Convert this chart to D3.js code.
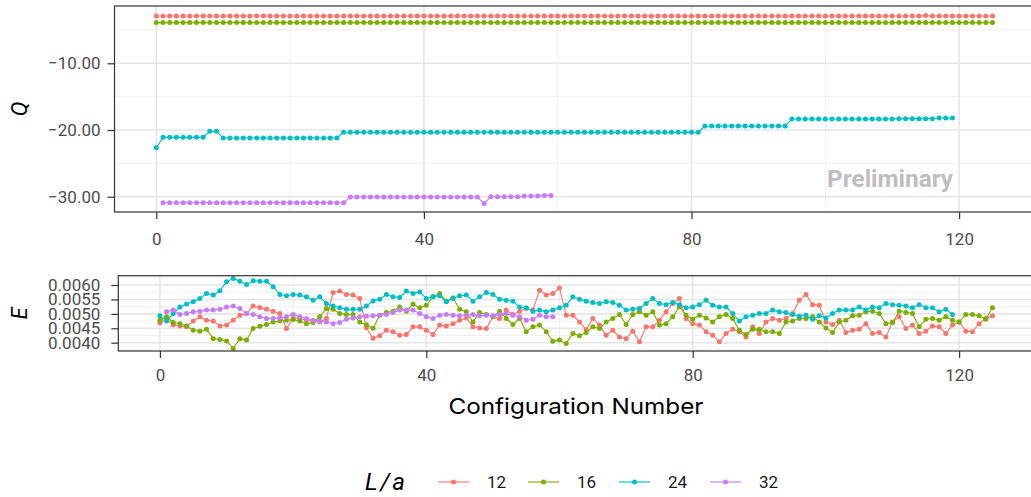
<!DOCTYPE html>
<html>
<head>
<meta charset="utf-8">
<script src="https://cdn.jsdelivr.net/npm/d3@7"></script>
<style>
  body { margin: 0; background: #fff; }
  svg { display: block; }
</style>
</head>
<body>
<div id="chart"></div>
<script>
// lattice sizes L/a
var sizes = ["12", "16", "24", "32"];
var colors = ["#F8766D", "#7CAE00", "#00BFC4", "#C77CFF"];
var firstConfig = [0, 0, 0, 1];

// topological charge Q, as runs [value, how many configs]
var qRuns12 = [[-2.90, 115], [-2.85, 1], [-2.90, 10]];
var qRuns16 = [[-3.90, 126]];
var qRuns24 = [[-22.65, 1], [-21.10, 7], [-20.20, 2], [-21.20, 18], [-20.35, 54],
               [-19.40, 13], [-18.35, 16], [-18.30, 6], [-18.20, 3]];
var qRuns32 = [[-30.90, 28], [-30.05, 20], [-31.00, 1], [-30.00, 5], [-29.90, 3], [-29.80, 2]];

// energy density E
var e12 = [0.00468, 0.00482, 0.00462, 0.00458, 0.00455, 0.00475, 0.00490, 0.00478, 0.00475, 0.00458,
           0.00461, 0.00478, 0.00495, 0.00501, 0.00527, 0.00522, 0.00516, 0.00509, 0.00501, 0.00449,
           0.00486, 0.00484, 0.00478, 0.00475, 0.00472, 0.00484, 0.00574, 0.00579, 0.00567, 0.00565,
           0.00553, 0.00452, 0.00415, 0.00424, 0.00443, 0.00438, 0.00426, 0.00428, 0.00455, 0.00455,
           0.00443, 0.00428, 0.00461, 0.00458, 0.00466, 0.00478, 0.00486, 0.00455, 0.00451, 0.00449,
           0.00490, 0.00484, 0.00513, 0.00498, 0.00509, 0.00519, 0.00513, 0.00582, 0.00565, 0.00571,
           0.00590, 0.00495, 0.00495, 0.00472, 0.00445, 0.00484, 0.00461, 0.00426, 0.00443, 0.00420,
           0.00414, 0.00440, 0.00403, 0.00455, 0.00455, 0.00478, 0.00507, 0.00536, 0.00553, 0.00484,
           0.00466, 0.00461, 0.00438, 0.00426, 0.00403, 0.00432, 0.00447, 0.00438, 0.00420, 0.00455,
           0.00432, 0.00472, 0.00484, 0.00478, 0.00484, 0.00501, 0.00547, 0.00567, 0.00532, 0.00530,
           0.00472, 0.00463, 0.00478, 0.00435, 0.00443, 0.00447, 0.00466, 0.00432, 0.00435, 0.00420,
           0.00472, 0.00490, 0.00449, 0.00461, 0.00432, 0.00440, 0.00458, 0.00455, 0.00432, 0.00461,
           0.00472, 0.00440, 0.00438, 0.00466, 0.00484, 0.00493];
var e16 = [0.00478, 0.00490, 0.00470, 0.00466, 0.00458, 0.00443, 0.00440, 0.00447, 0.00414, 0.00411,
           0.00406, 0.00380, 0.00414, 0.00409, 0.00449, 0.00457, 0.00463, 0.00472, 0.00475, 0.00478,
           0.00480, 0.00475, 0.00466, 0.00470, 0.00490, 0.00519, 0.00516, 0.00501, 0.00498, 0.00498,
           0.00472, 0.00462, 0.00450, 0.00495, 0.00505, 0.00509, 0.00524, 0.00509, 0.00534, 0.00521,
           0.00530, 0.00559, 0.00571, 0.00544, 0.00556, 0.00516, 0.00507, 0.00472, 0.00505, 0.00498,
           0.00490, 0.00509, 0.00484, 0.00463, 0.00484, 0.00438, 0.00455, 0.00461, 0.00438, 0.00405,
           0.00409, 0.00397, 0.00432, 0.00424, 0.00435, 0.00455, 0.00449, 0.00472, 0.00484, 0.00498,
           0.00463, 0.00498, 0.00507, 0.00495, 0.00507, 0.00461, 0.00466, 0.00490, 0.00524, 0.00495,
           0.00481, 0.00495, 0.00486, 0.00472, 0.00490, 0.00498, 0.00484, 0.00443, 0.00428, 0.00447,
           0.00447, 0.00438, 0.00438, 0.00432, 0.00472, 0.00475, 0.00484, 0.00484, 0.00490, 0.00472,
           0.00451, 0.00435, 0.00472, 0.00478, 0.00493, 0.00495, 0.00507, 0.00509, 0.00501, 0.00466,
           0.00470, 0.00509, 0.00505, 0.00501, 0.00455, 0.00481, 0.00484, 0.00478, 0.00490, 0.00478,
           0.00472, 0.00498, 0.00498, 0.00493, 0.00481, 0.00521];
var e24 = [0.00493, 0.00475, 0.00501, 0.00524, 0.00534, 0.00542, 0.00553, 0.00571, 0.00565, 0.00580,
           0.00611, 0.00623, 0.00613, 0.00602, 0.00615, 0.00613, 0.00613, 0.00594, 0.00567, 0.00563,
           0.00567, 0.00565, 0.00559, 0.00547, 0.00559, 0.00536, 0.00527, 0.00521, 0.00516, 0.00516,
           0.00516, 0.00527, 0.00545, 0.00551, 0.00567, 0.00559, 0.00557, 0.00579, 0.00571, 0.00576,
           0.00553, 0.00559, 0.00563, 0.00542, 0.00553, 0.00563, 0.00565, 0.00544, 0.00559, 0.00574,
           0.00567, 0.00551, 0.00547, 0.00544, 0.00524, 0.00521, 0.00509, 0.00513, 0.00507, 0.00513,
           0.00521, 0.00530, 0.00559, 0.00551, 0.00544, 0.00539, 0.00536, 0.00542, 0.00539, 0.00530,
           0.00513, 0.00516, 0.00519, 0.00536, 0.00553, 0.00536, 0.00532, 0.00539, 0.00532, 0.00521,
           0.00524, 0.00532, 0.00547, 0.00530, 0.00524, 0.00524, 0.00501, 0.00475, 0.00490, 0.00495,
           0.00501, 0.00501, 0.00513, 0.00507, 0.00505, 0.00498, 0.00492, 0.00495, 0.00481, 0.00493,
           0.00486, 0.00501, 0.00513, 0.00513, 0.00513, 0.00524, 0.00513, 0.00524, 0.00521, 0.00536,
           0.00532, 0.00530, 0.00527, 0.00521, 0.00532, 0.00521, 0.00521, 0.00507, 0.00516, 0.00498];
var e32 = [0.00507, 0.00513, 0.00498, 0.00501, 0.00507, 0.00509, 0.00513, 0.00513, 0.00516, 0.00524,
           0.00527, 0.00519, 0.00501, 0.00498, 0.00490, 0.00484, 0.00484, 0.00486, 0.00490, 0.00498,
           0.00490, 0.00484, 0.00478, 0.00475, 0.00472, 0.00466, 0.00470, 0.00481, 0.00486, 0.00490,
           0.00492, 0.00493, 0.00495, 0.00498, 0.00505, 0.00513, 0.00513, 0.00513, 0.00501, 0.00490,
           0.00484, 0.00495, 0.00498, 0.00495, 0.00493, 0.00495, 0.00498, 0.00493, 0.00495, 0.00493,
           0.00498, 0.00501, 0.00495, 0.00490, 0.00478, 0.00481, 0.00495, 0.00490, 0.00490];

var qTicks = [-30, -20, -10];
var qMinor = [-25, -15, -5];
var eTicks = [0.0040, 0.0045, 0.0050, 0.0055, 0.0060];
var eMinor = [0.00375, 0.00425, 0.00475, 0.00525, 0.00575, 0.00625];
var xTicks = [0, 40, 80, 120];
var xMinor = [20, 60, 100];

function expand(runs) {
  var out = [];
  runs.forEach(function (r) { for (var k = 0; k < r[1]; k++) out.push(r[0]); });
  return out;
}

var qSeries = [expand(qRuns12), expand(qRuns16), expand(qRuns24), expand(qRuns32)];
var eSeries = [e12, e16, e24, e32];

function toPoints(vals, s) {
  return vals.map(function (v, i) { return { x: firstConfig[s] + i, y: v }; });
}

var width = 1031, height = 497;
var tickFont = "Roboto, 'DejaVu Sans', sans-serif";

var svg = d3.select("#chart").append("svg")
    .attr("width", width)
    .attr("height", height);

function drawPanel(opt) {
  var x = d3.scaleLinear().domain([-6.25, 131.25]).range([opt.left, opt.left + 137.5 * opt.pxPerUnit]);
  var y = d3.scaleLinear().domain(opt.yDomain).range([opt.bottom, opt.top]);
  var g = svg.append("g");
  var right = width + 10;

  g.append("rect")
      .attr("x", opt.left).attr("y", opt.top)
      .attr("width", right - opt.left).attr("height", opt.bottom - opt.top)
      .attr("fill", "#fff");

  // grid
  g.selectAll(".hmin").data(opt.yMinor).enter().append("line")
      .attr("x1", opt.left).attr("x2", right)
      .attr("y1", function (d) { return y(d); }).attr("y2", function (d) { return y(d); })
      .attr("stroke", "#F0F0F0").attr("stroke-width", 1);
  g.selectAll(".vmin").data(xMinor).enter().append("line")
      .attr("y1", opt.top).attr("y2", opt.bottom)
      .attr("x1", function (d) { return x(d); }).attr("x2", function (d) { return x(d); })
      .attr("stroke", "#F0F0F0").attr("stroke-width", 1);
  g.selectAll(".hmaj").data(opt.yTicks).enter().append("line")
      .attr("x1", opt.left).attr("x2", right)
      .attr("y1", function (d) { return y(d); }).attr("y2", function (d) { return y(d); })
      .attr("stroke", "#E6E6E6").attr("stroke-width", 1.6);
  g.selectAll(".vmaj").data(xTicks).enter().append("line")
      .attr("y1", opt.top).attr("y2", opt.bottom)
      .attr("x1", function (d) { return x(d); }).attr("x2", function (d) { return x(d); })
      .attr("stroke", "#E6E6E6").attr("stroke-width", 1.6);

  if (opt.watermark) {
    g.append("text")
        .attr("x", x(120) - 6).attr("y", y(-28.5))
        .attr("text-anchor", "end")
        .attr("font-family", tickFont).attr("font-weight", "bold")
        .attr("font-size", 24).attr("fill", "#BEBEBE")
        .attr("textLength", 126).attr("lengthAdjust", "spacingAndGlyphs")
        .text("Preliminary");
  }

  var line = d3.line().x(function (d) { return x(d.x); }).y(function (d) { return y(d.y); });
  opt.series.forEach(function (vals, s) {
    var pts = toPoints(vals, s);
    var sg = g.append("g");
    sg.append("path").datum(pts)
        .attr("d", line).attr("fill", "none")
        .attr("stroke", colors[s]).attr("stroke-width", 1.1);
    sg.selectAll("circle").data(pts).enter().append("circle")
        .attr("cx", function (d) { return x(d.x); })
        .attr("cy", function (d) { return y(d.y); })
        .attr("r", 2.5).attr("fill", colors[s]);
  });

  // border
  g.append("rect")
      .attr("x", opt.left).attr("y", opt.top)
      .attr("width", right - opt.left).attr("height", opt.bottom - opt.top)
      .attr("fill", "none").attr("stroke", "#333").attr("stroke-width", 1.2);

  var ya = g.append("g").attr("transform", "translate(" + opt.left + ",0)")
      .call(d3.axisLeft(y).tickValues(opt.yTicks).tickFormat(opt.yFormat)
            .tickSize(7).tickPadding(opt.yPad));
  var xa = g.append("g").attr("transform", "translate(0," + opt.bottom + ")")
      .call(d3.axisBottom(x).tickValues(xTicks).tickFormat(d3.format("d"))
            .tickSize(7).tickPadding(opt.xPad));
  [ya, xa].forEach(function (a) {
    a.select(".domain").remove();
    a.selectAll(".tick line").attr("stroke", "#333").attr("stroke-width", 1.2);
    a.selectAll(".tick text").attr("font-family", tickFont).attr("font-size", 17).attr("fill", "#4D4D4D");
  });

  svg.append("text")
      .attr("transform", "translate(" + 27 + "," + ((opt.top + opt.bottom) / 2) + ") rotate(-90)")
      .attr("text-anchor", "middle")
      .attr("font-family", tickFont).attr("font-style", "italic")
      .attr("font-size", 22).attr("fill", "#000")
      .text(opt.title);
}

drawPanel({
  left: 114.5, top: 6, bottom: 212, pxPerUnit: 6.69,
  yDomain: [-32.29, -1.41], yTicks: qTicks, yMinor: qMinor,
  yFormat: d3.format(".2f"), yPad: 7, xPad: 14,
  series: qSeries, title: "Q", watermark: true
});

drawPanel({
  left: 118.3, top: 275.7, bottom: 351, pxPerUnit: 6.66,
  yDomain: [0.003712, 0.006323], yTicks: eTicks, yMinor: eMinor,
  yFormat: d3.format(".4f"), yPad: 11, xPad: 11,
  series: eSeries, title: "E", watermark: false
});

svg.append("text")
    .attr("x", 576).attr("y", 414)
    .attr("text-anchor", "middle")
    .attr("font-family", "Inter, Roboto, sans-serif")
    .attr("font-size", 22).attr("fill", "#000")
    .attr("textLength", 255).attr("lengthAdjust", "spacingAndGlyphs")
    .text("Configuration Number");

// legend
var legend = svg.append("g").attr("transform", "translate(0,482)");
legend.append("text")
    .attr("x", 365).attr("y", 8)
    .attr("font-family", tickFont).attr("font-style", "italic")
    .attr("font-size", 24).attr("fill", "#000")
    .attr("textLength", 40).attr("lengthAdjust", "spacing")
    .text("L/a");
var keyX = [438, 528, 619, 710];
sizes.forEach(function (s, i) {
  var k = legend.append("g").attr("transform", "translate(" + keyX[i] + ",0)");
  k.append("line").attr("x1", 0).attr("x2", 31).attr("y1", 0).attr("y2", 0)
      .attr("stroke", colors[i]).attr("stroke-width", 1.1);
  k.append("circle").attr("cx", 15.5).attr("cy", 0).attr("r", 2.5).attr("fill", colors[i]);
  k.append("text").attr("x", 49).attr("y", 6)
      .attr("font-family", tickFont).attr("font-size", 17).attr("fill", "#1A1A1A")
      .text(s);
});
</script>
</body>
</html>
